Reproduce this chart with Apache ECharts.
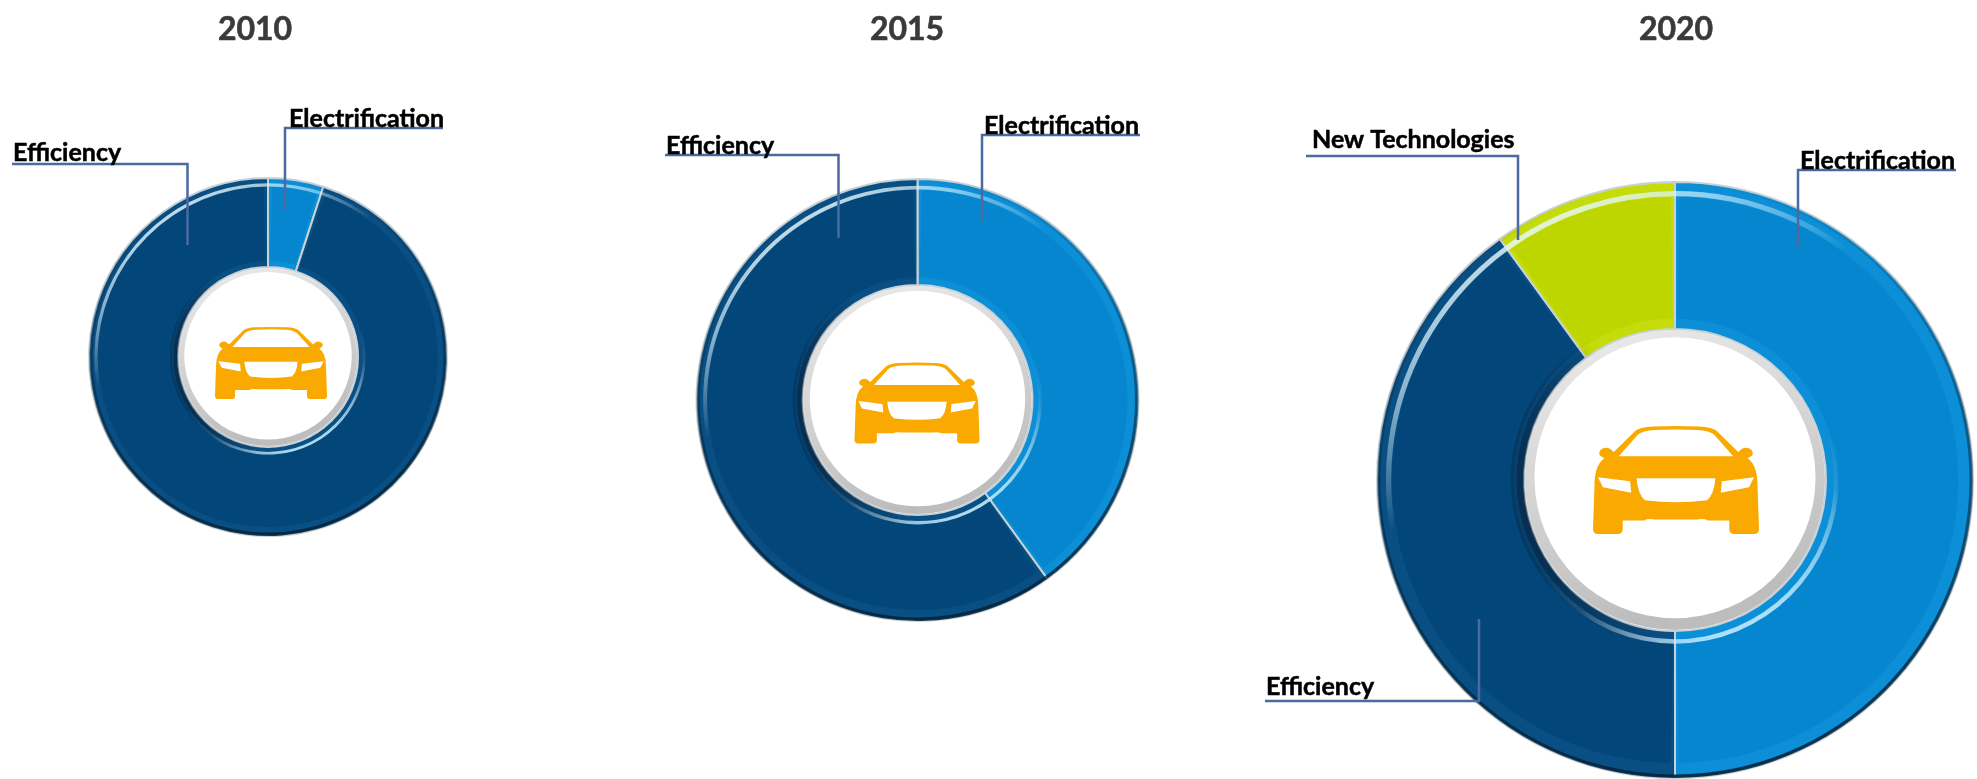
<!DOCTYPE html>
<html><head><meta charset="utf-8">
<style>html,body{margin:0;padding:0;background:#fff}#c{width:1977px;height:779px}</style>
<script src="https://cdn.jsdelivr.net/npm/echarts@6/dist/echarts.min.js"></script>
</head><body><div id="c"></div>
<script>
const years = ['2010', '2015', '2020'];
const categories2010 = ['Electrification', 'Efficiency'];
const values2010 = [5, 95];
const categories2015 = ['Electrification', 'Efficiency'];
const values2015 = [40, 60];
const categories2020 = ['Electrification', 'Efficiency', 'New Technologies'];
const values2020 = [50, 40, 10];

const palette = {
  'Electrification': { face: '#0686CE', bevel: '#0C8FD6' },
  'Efficiency': { face: '#03477A', bevel: '#0A4F83' },
  'New Technologies': { face: '#BDD600', bevel: '#C6DC0A' }
};

const rings = [
  { cx: 268, cy: 357, R: 179, r: 90, grey: 5, titleX: 250, car: [271, 363, 112, 72] },
  { cx: 917.5, cy: 400, R: 221, r: 115, grey: 6, titleX: 902, car: [917, 403, 125, 81] },
  { cx: 1675, cy: 480, R: 298, r: 151, grey: 9, titleX: 1671, car: [1676, 480, 166, 108] }
];
// tip x, tip y, underline y, far end x, text x, text bottom y
const leaders = [
  { 'Efficiency': [187.5, 245, 164, 12, 13, 165], 'Electrification': [285, 210, 128, 443, 289, 131] },
  { 'Efficiency': [838.5, 238, 155, 665, 666, 158], 'Electrification': [982, 221, 135, 1140, 984, 138] },
  { 'Electrification': [1798, 248, 170, 1956, 1800, 173], 'Efficiency': [1479, 619, 701, 1265, 1266, 699], 'New Technologies': [1518, 240, 156, 1306, 1312, 152] }
];

const chart = echarts.init(document.getElementById('c'));

function rows(cats, vals) { return cats.map((n, i) => ({ name: n, value: vals[i] })); }
const datasets = [rows(categories2010, values2010), rows(categories2015, values2015), rows(categories2020, values2020)];

function glob(x, y, x2, y2, stops) {
  return { type: 'linear', global: true, x, y, x2, y2, colorStops: stops };
}

function ringSeries(idx) {
  const g = rings[idx], data = datasets[idx], lead = leaders[idx];
  const { cx, cy, R, r } = g;
  const b = R * 0.05;
  const base = { type: 'pie', center: [cx, cy], startAngle: 90, silent: true, animation: false, label: { show: false }, labelLine: { show: false }, emphasis: { disabled: true } };
  const band = (r0, r1, color) => Object.assign({}, base, { radius: [r0, r1], data, itemStyle: { color } });
  const tl = [cx - R * 0.55, cy - R * 0.95, cx + R * 0.1, cy + R * 0.1];
  const br = [cx + r * 0.1, cy + r * 0.1, cx + r * 0.5, cy + r * 0.95];
  const shadow = a => glob(cx - r, cy, cx - 0.1 * r, cy - 0.2 * r, [
    { offset: 0, color: 'rgba(0,10,25,' + a + ')' }, { offset: 0.7, color: 'rgba(0,10,25,0)' }, { offset: 1, color: 'rgba(0,10,25,0)' }]);
  return [
    Object.assign({}, base, {
      radius: [r, R], data: data,
      itemStyle: { color: p => palette[p.name].bevel, borderColor: '#C8D2D6', borderWidth: 2 }
    }),
    band(R - 3.5, R, glob(cx, cy - R, cx + R * 0.3, cy + R, [
      { offset: 0, color: 'rgba(2,35,60,0)' }, { offset: 0.5, color: 'rgba(2,35,60,0.5)' }, { offset: 1, color: 'rgba(2,35,60,0.9)' }])),
    Object.assign({}, base, {
      radius: [r + b * 0.7, R - b], data, padAngle: 500 / R,
      itemStyle: { color: p => palette[p.name].face }
    }),
    band(R - b * 0.95, R - b * 0.6, glob(tl[0], tl[1], tl[2], tl[3], [
      { offset: 0, color: 'rgba(235,250,255,0.95)' }, { offset: 0.3, color: 'rgba(220,245,255,0.6)' }, { offset: 0.6, color: 'rgba(255,255,255,0)' }, { offset: 1, color: 'rgba(255,255,255,0)' }])),
    band(r + b * 0.55, r + b * 0.85, glob(br[0], br[1], br[2], br[3], [
      { offset: 0, color: 'rgba(255,255,255,0)' }, { offset: 0.4, color: 'rgba(255,255,255,0.1)' }, { offset: 1, color: 'rgba(190,235,255,0.9)' }])),
    band(r, r + b * 0.9, shadow(0.22)),
    band(r, r + b * 0.5, shadow(0.3)),
    // topmost, transparent ring that carries the labels and leader lines
    Object.assign({}, base, {
      z: 3,
      radius: [r, R], data: data, silent: false,
      itemStyle: { color: 'rgba(0,0,0,0)' },
      label: { show: true, position: 'outside', formatter: '{b}', width: 240, overflow: 'none', align: 'left',
        fontFamily: 'Lato, "Open Sans", sans-serif', fontWeight: 'bold', fontSize: 25, color: '#000',
        textBorderColor: '#000', textBorderWidth: 0.5 },
      labelLine: { show: true, smooth: false, lineStyle: { color: '#4A6AA0', width: 2.5 } },
      labelLayout: p => {
        const L = lead[data[p.dataIndex].name];
        return { x: L[4], y: L[5], align: 'left', verticalAlign: 'bottom', hideOverlap: false,
          labelLinePoints: [[L[0], L[1]], [L[0], L[2]], [L[3], L[2]]] };
      }
    })
  ];
}

const carPath = 'M42 52 L85 10 Q95 2 120 1 Q167 -1 215 1 Q240 2 250 10 L293 52 L300 46 Q310 40 320 48 Q328 58 312 64 Q332 78 332 118 L335 205 Q335 215 325 215 L285 215 Q275 215 275 205 L275 188 L232 188 Q225 184 210 186 L125 186 Q110 184 103 188 L60 188 L60 205 Q60 215 50 215 L10 215 Q0 215 0 205 L3 118 Q3 78 23 64 Q7 58 15 48 Q25 40 35 46 Z ' +
  'M52 60 L283 60 L245 18 Q235 9 210 8 Q167 6 125 8 Q100 9 90 18 Z ' +
  'M10 102 L20 122 L77 133 L75 110 Z ' +
  'M88 104 Q90 135 105 148 Q167 156 230 148 Q245 135 247 104 Z ' +
  'M325 102 L260 110 L258 133 L315 122 Z';

const graphics = [];
rings.forEach(g => {
  const inner = g.r - 1;
  graphics.push({ type: 'circle', silent: true, z: 1, shape: { cx: g.cx, cy: g.cy, r: inner }, style: {
    fill: { type: 'linear', x: 0, y: 0, x2: 0.3, y2: 1, colorStops: [{ offset: 0, color: '#EDEDED' }, { offset: 1, color: '#BDBDBD' }] } } });
  graphics.push({ type: 'circle', silent: true, z: 1, shape: { cx: g.cx, cy: g.cy - g.grey * 0.25, r: inner - g.grey * 1.05 }, style: { fill: '#fff' } });
});

const carSeries = {
  type: 'custom', coordinateSystem: 'none', silent: true, animation: false, z: 6,
  data: rings.map((g, i) => [i]),
  renderItem: params => {
    const c = rings[params.dataIndex].car;
    return { type: 'path', shape: { pathData: carPath, layout: 'cover', x: c[0] - c[2] / 2, y: c[1] - c[3] / 2, width: c[2], height: c[3] }, style: { fill: '#FAA900' } };
  }
};

chart.setOption({
  backgroundColor: '#fff',
  animation: false,
  title: years.map((y, i) => ({
    text: y, left: rings[i].titleX, top: 9, textAlign: 'center',
    textStyle: { fontFamily: 'Lato, "Open Sans", sans-serif', fontWeight: 'bold', fontSize: 32, color: '#3A3A3A', textBorderColor: '#3A3A3A', textBorderWidth: 0.6 }
  })),
  series: [0, 1, 2].flatMap(ringSeries).concat([carSeries]),
  graphic: graphics
});
</script></body></html>
